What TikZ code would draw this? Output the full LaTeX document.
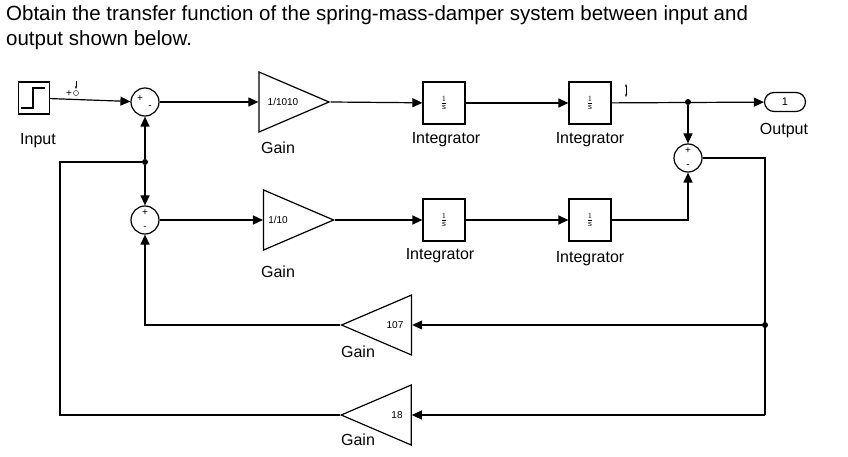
\documentclass[tikz,border=0pt]{standalone}
\usepackage{fontspec}
\setmainfont{Liberation Sans}
\usetikzlibrary{shapes.geometric,shapes.misc,arrows.meta}
\tikzset{
  intg/.style={draw=black, line width=1.2pt, rectangle, minimum width=42pt, minimum height=42pt, inner sep=0pt, font=\fontsize{11}{11}\selectfont},
  sumj/.style={draw=black, line width=1.2pt, circle, minimum size=28pt, inner sep=0pt},
  gainr/.style={draw=black, line width=1.2pt, isosceles triangle, isosceles triangle stretches, minimum width=60pt, minimum height=70pt, inner sep=0pt, font=\fontsize{10}{10}\selectfont},
  gainl/.style={gainr, shape border rotate=180},
  lbl/.style={font=\fontsize{16}{16}\selectfont},
  sgn/.style={font=\fontsize{10}{10}\selectfont},
  sig/.style={line width=1.2pt, -{Triangle[length=10pt,width=9pt]}},
  wire/.style={line width=1.2pt},
  dot/.style={circle, fill, inner sep=0pt, minimum size=6pt}
}
\begin{document}
\begin{tikzpicture}[x=1pt,y=-1pt]
  \useasboundingbox (0,0) rectangle (848,457);
  \node[anchor=north west, align=left, inner sep=0pt, font=\fontsize{20.5}{25}\selectfont] (title) at (6,5)
    {Obtain the transfer function of the spring-mass-damper system between input and\\output shown below.};

  % upper row
  \node[draw=black, line width=1.2pt, minimum width=31pt, minimum height=32pt] (input) at (34,98) {};
  \draw[line width=1.2pt] (21,108) -- (33,108) -- (33,88) -- (45,88);
  \node[lbl] (inputl) at (38,141) {Input};
  \node[sgn] at (69,94) {+};
  \draw[thick, -{Stealth[length=3pt]}] (76,81) -- (76,89);
  \draw (76,93) circle (2.5pt);
  \node[sumj] (s1) at (145,102) {};
  \node[sgn] at (140,99) {+}; \node[sgn] at (150,107) {-};
  \node[gainr] (g1) at (283,102) {1/1010};
  \node[lbl] (g1l) at (278,148) {Gain};
  \node[intg] (i1) at (444,103) {$\frac{1}{\mathrm{s}}$};
  \node[lbl] (i1l) at (446,140) {Integrator};
  \node[intg] (i2) at (590,103) {$\frac{1}{\mathrm{s}}$};
  \node[lbl] (i2l) at (590,140) {Integrator};
  \draw[thick, {Stealth[length=3pt]}-{Stealth[length=3pt]}] (626,84) -- (626,97);
  \node[dot] (br) at (688,102) {};
  \node[draw=black, line width=1.2pt, rounded rectangle, minimum width=41pt, minimum height=19pt, inner sep=0pt, font=\fontsize{11}{11}\selectfont] (out) at (785,102) {1};
  \node[lbl] (outl) at (784,131) {Output};
  \node[sumj] (s3) at (688,158) {};
  \node[sgn] at (688,151) {+}; \node[sgn] at (688,166) {-};

  % lower row
  \node[dot] (tap) at (145,162) {};
  \node[sumj] (s2) at (145,220) {};
  \node[sgn] at (145,213) {+}; \node[sgn] at (145,228) {-};
  \node[gainr] (g2) at (283,220) {\hspace*{-10pt}1/10};
  \node[lbl] (g2l) at (278,272) {Gain};
  \node[intg] (i3) at (444,220) {$\frac{1}{\mathrm{s}}$};
  \node[lbl] (i3l) at (440,256) {Integrator};
  \node[intg] (i4) at (590,220) {$\frac{1}{\mathrm{s}}$};
  \node[lbl] (i4l) at (590,259) {Integrator};

  % feedback gains
  \node[gainl] (k1) at (387,325) {\hspace*{16pt}107};
  \node[lbl] (k1l) at (358,352) {Gain};
  \node[gainl] (k2) at (387,415) {\hspace*{20pt}18};
  \node[lbl] (k2l) at (358,440) {Gain};
  \node[dot] (fb) at (765,325) {};
  \coordinate (c1) at (765,158);
  \coordinate (c2) at (765,415);
  \coordinate (c3) at (60,162);
  \coordinate (c4) at (60,415);
  \coordinate (c5) at (145,325);

  % connectors
  \draw[sig] (input) -- (s1);
  \draw[sig] (s1) -- (g1.lower side);
  \draw[sig] (g1.apex) -- (i1);
  \draw[sig] (i1) -- (i2);
  \draw[sig] (i2) -- (out);
  \draw[sig] (br) -- (s3);
  \draw[sig] (tap) -- (s1);
  \draw[sig] (tap) -- (s2);
  \draw[sig] (s2) -- (g2.lower side);
  \draw[sig] (g2.apex) -- (i3);
  \draw[sig] (i3) -- (i4);
  \draw[sig] (i4.east) -| (s3.south);
  \draw[wire] (s3) -- (c1) -- (c2);
  \draw[sig] (fb) -- (k1.lower side);
  \draw[sig] (c2) -- (k2.lower side);
  \draw[sig] (k1.apex) -- (c5) -- (s2);
  \draw[wire] (k2.apex) -- (c4) -- (c3) -- (tap);
\end{tikzpicture}
\end{document}
